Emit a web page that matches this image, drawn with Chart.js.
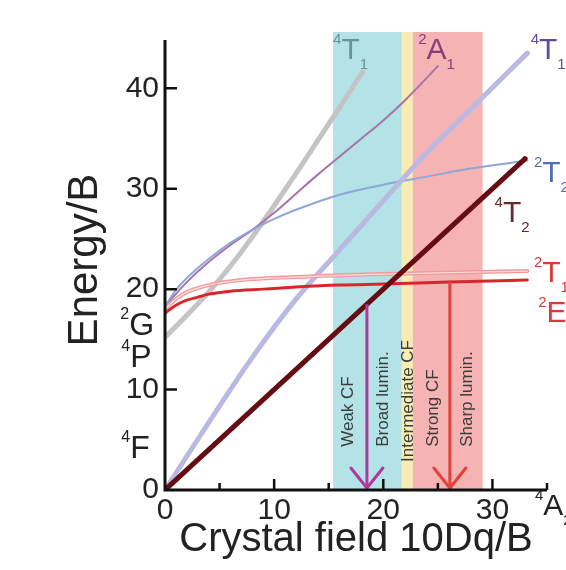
<!DOCTYPE html>
<html>
<head>
<meta charset="utf-8">
<script src="https://cdn.jsdelivr.net/npm/chart.js@4.4.0/dist/chart.umd.min.js"></script>
<style>
  html, body { margin: 0; padding: 0; background: #fff; }
  #wrap { width: 566px; height: 570px; }
</style>
</head>
<body>
<div id="wrap"><canvas id="ts"></canvas></div>
<script>
const FONT = '"Liberation Sans", Arial, sans-serif';

// axis ticks
const xTicks = [0, 10, 20, 30];
const xMinor = [5, 15, 25, 35];
const yTicks = [0, 10, 20, 30, 40];

// energy levels (E/B) against 10Dq/B
const q4T2X = [0, 33];
const q4T2Y = [0, 33];
const q4T1fX = [0, 4, 8, 12, 16, 20, 24, 28, 33.2];
const q4T1fY = [0, 6.7, 13.2, 19.0, 23.9, 28.8, 33.6, 37.9, 43.5];
const q4T1pX = [0, 2, 4, 6, 8, 10, 12, 14, 16, 18.1];
const q4T1pY = [15.2, 17.4, 19.7, 22.3, 25.2, 28.3, 31.5, 34.8, 38.1, 41.6];
const d2T2X = [0, 1, 2, 4, 6, 8, 10, 12, 16, 20, 24, 28, 33.2];
const d2T2Y = [18.3, 19.9, 21.1, 23.0, 24.6, 25.9, 27.0, 27.9, 29.4, 30.4, 31.2, 32.0, 32.8];
const d2A1X = [0, 2, 4, 6, 8, 10, 12, 14, 16, 18, 20, 22, 25];
const d2A1Y = [18.3, 20.7, 22.7, 24.4, 25.9, 27.6, 29.5, 31.4, 33.2, 35.0, 36.8, 38.8, 42.2];
const d2EX = [0, 1, 2, 3, 4, 6, 9, 12, 16, 20, 26, 33.2];
const d2EY = [17.6, 18.4, 18.9, 19.2, 19.5, 19.8, 20.0, 20.2, 20.4, 20.5, 20.7, 20.9];
const d2T1X = [0, 1, 2, 4, 7, 12, 20, 33.2];
const d2T1Y = [18.0, 19.0, 19.7, 20.4, 20.9, 21.2, 21.5, 21.8];

// emission arrows: x position and starting level
const arrowX = [18.5, 26.1];
const arrowTop = [18.5, 20.75];
const arrowColor = ['#b2379c', '#e2413b'];

// crystal field regions
const bandEdges = [15.4, 21.7, 22.7, 29.1];
const bandColor = ['#b3e3e6', '#f8ecb2', '#f5b3b3'];
const bandText = ['Weak CF', 'Broad lumin.', 'Intermediate CF', 'Strong CF', 'Sharp lumin.'];
const bandTextX = [16.8, 20.0, 22.3, 24.6, 27.7];
const bandTextY = [4.3, 4.3, 2.8, 4.3, 4.3];

// term symbols
const termSup = ['4', '2', '4', '2', '4', '2', '2', '2', '4', '4', '4'];
const termBase = ['T', 'A', 'T', 'T', 'T', 'T', 'E', 'G', 'P', 'F', 'A'];
const termSub = ['1', '1', '1', '2', '2', '1', '', '', '', '', '2'];
const termX = [15.4, 23.2, 33.5, 33.8, 30.2, 33.8, 34.2, -4.1, -4.0, -4.0, 33.9];
const termY = [42.9, 42.9, 42.9, 30.7, 26.7, 20.7, 16.7, 15.4, 12.2, 3.2, -2.5];
const termColor = ['#6a9493', '#8c3c7c', '#5c4ca0', '#4f6fb5', '#6b2a2a', '#d83a3a', '#d83a3a',
                   '#222', '#222', '#222', '#222'];

const toPts = (xs, ys) => xs.map((x, i) => ({ x: x, y: ys[i] }));

function curve(xs, ys, color, width) {
    return {
        data: toPts(xs, ys),
        borderColor: color,
        borderWidth: width,
        pointRadius: 0,
        fill: false,
        cubicInterpolationMode: 'monotone',
        borderCapStyle: 'round'
    };
}

function term(ctx, sup, base, sub, px, py, color, size) {
    const small = Math.round(size * 0.5);
    ctx.fillStyle = color;
    ctx.textAlign = 'left';
    ctx.textBaseline = 'alphabetic';
    ctx.font = small + 'px ' + FONT;
    ctx.fillText(sup, px, py - size * 0.5);
    let x = px + ctx.measureText(sup).width;
    ctx.font = size + 'px ' + FONT;
    ctx.fillText(base, x, py);
    x += ctx.measureText(base).width;
    if (sub) {
        ctx.font = small + 'px ' + FONT;
        ctx.fillText(sub, x, py + size * 0.33);
    }
}

const decor = {
    id: 'decor',
    beforeDatasetsDraw(chart) {
        const { ctx, chartArea, scales: { x, y } } = chart;
        ctx.save();
        for (let i = 0; i < bandColor.length; i++) {
            const l = x.getPixelForValue(bandEdges[i]);
            const r = x.getPixelForValue(bandEdges[i + 1]);
            ctx.fillStyle = bandColor[i];
            ctx.fillRect(l, chartArea.top + 2, r - l, chartArea.bottom - chartArea.top - 2);
        }
        ctx.fillStyle = '#3c3c3c';
        ctx.font = '17px ' + FONT;
        ctx.textAlign = 'left';
        ctx.textBaseline = 'middle';
        bandText.forEach((t, i) => {
            ctx.save();
            ctx.translate(x.getPixelForValue(bandTextX[i]), y.getPixelForValue(bandTextY[i]));
            ctx.rotate(-Math.PI / 2);
            ctx.fillText(t, 0, 0);
            ctx.restore();
        });
        ctx.restore();
    },
    afterDatasetsDraw(chart) {
        const { ctx, scales: { x, y } } = chart;
        const x0 = x.getPixelForValue(0);
        const y0 = y.getPixelForValue(0);
        ctx.save();
        // arrow heads
        ctx.lineWidth = 3;
        ctx.lineCap = 'round';
        arrowX.forEach((ax, i) => {
            const px = x.getPixelForValue(ax);
            const tip = y0 - 2;
            ctx.strokeStyle = arrowColor[i];
            ctx.beginPath();
            ctx.moveTo(px - 16, tip - 20);
            ctx.lineTo(px, tip);
            ctx.lineTo(px + 16, tip - 20);
            ctx.stroke();
        });
        // axes
        ctx.strokeStyle = '#111';
        ctx.lineWidth = 3;
        ctx.lineCap = 'butt';
        ctx.beginPath();
        ctx.moveTo(x0, y0 + 1.5);
        ctx.lineTo(x0, y.getPixelForValue(44.8));
        ctx.moveTo(x0 - 1.5, y0);
        ctx.lineTo(x.getPixelForValue(35), y0);
        ctx.stroke();
        ctx.lineWidth = 2.5;
        ctx.beginPath();
        yTicks.slice(1).forEach(v => {
            const py = y.getPixelForValue(v);
            ctx.moveTo(x0, py);
            ctx.lineTo(x0 + 12, py);
        });
        xTicks.slice(1).forEach(v => {
            const px = x.getPixelForValue(v);
            ctx.moveTo(px, y0);
            ctx.lineTo(px, y0 - 11);
        });
        xMinor.forEach(v => {
            const px = x.getPixelForValue(v);
            ctx.moveTo(px, y0);
            ctx.lineTo(px, y0 - 7);
        });
        ctx.stroke();
        ctx.restore();
    },
    afterDraw(chart) {
        const { ctx, scales: { x, y } } = chart;
        ctx.save();
        termBase.forEach((b, i) => {
            const size = i >= 7 && i <= 9 ? 32 : 30;
            term(ctx, termSup[i], b, termSub[i], x.getPixelForValue(termX[i]),
                 y.getPixelForValue(termY[i]), termColor[i], size);
        });
        ctx.restore();
    }
};

const datasets = [
    // arrows go on top
    ...arrowX.map((ax, i) => ({
        data: [{ x: ax, y: arrowTop[i] }, { x: ax, y: 0 }],
        borderColor: arrowColor[i],
        borderWidth: 3,
        pointRadius: 0,
        fill: false
    })),
    curve(q4T2X, q4T2Y, '#650d12', 5),
    curve(d2EX, d2EY, '#d9262c', 3),
    curve(d2T1X, d2T1Y, '#fbe0e0', 1.2),
    curve(d2T1X, d2T1Y, '#f09c9c', 4),
    curve(q4T1fX, q4T1fY, '#b9b9e2', 5),
    curve(d2T2X, d2T2Y, '#8ea6d8', 2),
    curve(d2A1X, d2A1Y, '#a873aa', 2),
    curve(q4T1pX, q4T1pY, '#c4c4c4', 5)
];

new Chart(document.getElementById('ts'), {
    type: 'line',
    data: { datasets: datasets },
    options: {
        responsive: true,
        maintainAspectRatio: false,
        animation: false,
        devicePixelRatio: 1,
        layout: { padding: { left: 0, top: 30, right: 19, bottom: 0 } },
        plugins: { legend: { display: false }, tooltip: { enabled: false } },
        scales: {
            x: {
                type: 'linear',
                min: 0,
                max: 35,
                afterBuildTicks: s => { s.ticks = xTicks.map(v => ({ value: v })); },
                afterFit: s => { s.height = 80; },
                grid: { display: false, drawTicks: false },
                border: { display: false },
                ticks: {
                    color: '#222',
                    font: { family: FONT, size: 30 },
                    padding: 3,
                    maxRotation: 0,
                    autoSkip: false
                },
                title: {
                    display: true,
                    text: 'Crystal field 10Dq/B',
                    color: '#222',
                    font: { family: FONT, size: 40 },
                    padding: { top: 0, bottom: 6 }
                }
            },
            y: {
                type: 'linear',
                min: 0,
                max: 45.8,
                afterBuildTicks: s => { s.ticks = yTicks.map(v => ({ value: v })); },
                afterFit: s => { s.width = 165; },
                grid: { display: false, drawTicks: false },
                border: { display: false },
                ticks: {
                    color: '#222',
                    font: { family: FONT, size: 30 },
                    padding: 6
                },
                title: {
                    display: true,
                    text: 'Energy/B',
                    color: '#222',
                    font: { family: FONT, size: 42 },
                    padding: { top: 60, bottom: 0 }
                }
            }
        }
    },
    plugins: [decor]
});
</script>
</body>
</html>
